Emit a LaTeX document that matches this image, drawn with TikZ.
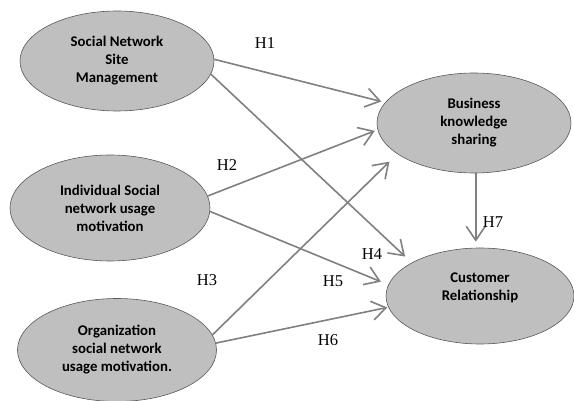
\documentclass[tikz,border=0pt]{standalone}
\usepackage{fontspec}
\setmainfont{Liberation Serif}
\newfontfamily\calfont{Carlito}
\usetikzlibrary{shapes.geometric,arrows.meta}
\tikzset{
factor/.style={ellipse,draw=black!65,fill=black!25,line width=0.6pt,inner sep=0pt,align=center,font=\calfont\bfseries\fontsize{14.8}{18}\selectfont},
hyp/.style={-{Straight Barb[length=14pt,width=19pt]},draw=black!50,line width=1.6pt},
hlab/.style={inner sep=0pt,font=\fontsize{16.5}{18}\selectfont}
}
\begin{document}
\begin{tikzpicture}[x=1pt,y=-1pt]
\useasboundingbox(0,0)rectangle(574,401);
\node[factor,minimum width=194pt,minimum height=100pt](snsm)at(117,61){Social Network\\Site\\Management};
\node[factor,minimum width=200pt,minimum height=106pt](isnum)at(110,208){Individual Social\\network usage\\motivation};
\node[factor,minimum width=199pt,minimum height=103pt](osnum)at(117,350){Organization\\social network\\usage motivation.};
\node[factor,minimum width=194pt,minimum height=100pt](bks)at(474,123){Business\\knowledge\\sharing};
\node[factor,minimum width=188pt,minimum height=96pt,text depth=19pt](cr)at(480,296){Customer\\Relationship};
\draw[hyp,shorten >=4pt](snsm.1)--(bks.167);
\draw[hyp,shorten >=9pt](snsm.-8)--(cr.154);
\draw[hyp,shorten >=3pt](isnum.7)--(bks.184);
\draw[hyp,shorten >=8pt](isnum.-2)--(cr.173);
\draw[hyp,shorten >=11pt](osnum.9)--(bks.202);
\draw[hyp,shorten >=1pt](osnum.4)--(cr.187);
\draw[hyp,shorten >=6pt](bks.272)--(bks.272|-cr.north);
\foreach \lx/\ly/\lt in {265/43/H1,227/165/H2,207/280/H3,372/254/H4,333/281/H5,328/340/H6,493/222/H7}
{\node[hlab](\lt)at(\lx,\ly){\lt};}
\end{tikzpicture}
\end{document}
